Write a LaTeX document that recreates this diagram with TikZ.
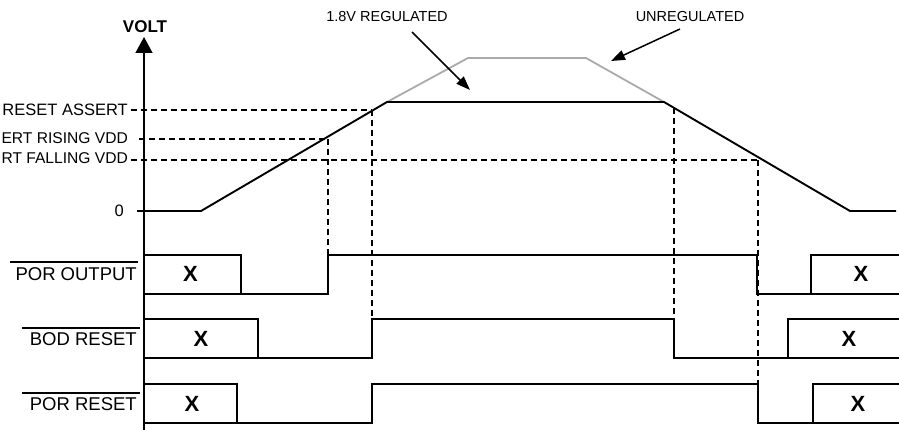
\documentclass[tikz,border=0pt]{standalone}
\usepackage{fontspec}
\setmainfont{Liberation Sans}
\usetikzlibrary{arrows.meta}
\definecolor{unreg}{RGB}{170,170,170}
\begin{document}
\begin{tikzpicture}[x=1pt,y=-1pt,
  sig/.style={line width=1.9pt, line join=miter},
  guide/.style={line width=1.3pt, dash pattern=on 6pt off 4pt},
  lvl/.style={font=\fontsize{16.5}{18}\selectfont, anchor=east, inner sep=0pt},
  lvls/.style={font=\fontsize{15.6}{18}\selectfont, anchor=east, inner sep=0pt},
  sigl/.style={font=\fontsize{18.5}{20}\selectfont, anchor=east, inner sep=0pt},
  xl/.style={font=\bfseries\fontsize{22}{24}\selectfont, inner sep=0pt},
  toplbl/.style={font=\fontsize{14.5}{16}\selectfont, inner sep=0pt},
  ovl/.style={line width=1.3pt},
  callout/.style={line width=1.5pt, -{Triangle[length=14pt,width=10pt]}}
]
\useasboundingbox (0,0) rectangle (899,430);

% axis
\node[font=\bfseries\fontsize{17}{19}\selectfont, inner sep=0pt] (volt) at (145,27) {VOLT};
\coordinate (axb) at (144,430);
\coordinate (axt) at (144,37);
\draw[line width=1.5pt, -{Triangle[length=16pt,width=17pt]}] (axb) -- (axt);

% level labels
\node[lvl] (lra) at (128,110) {RESET ASSERT};
\node[lvls] (lrv) at (128,138) {ERT RISING VDD};
\node[lvls] (lfv) at (128,158) {RT FALLING VDD};
\node[lvl] (lz) at (124,211) {0};

% unregulated (grey)
\draw[line width=1.8pt, unreg] (387,102) -- (468,58) -- (586,58) -- (664,102);

% regulated (black)
\coordinate (v0) at (137,211);
\coordinate (v1) at (201,211);
\coordinate (v2) at (387,102);
\coordinate (v3) at (664,102);
\coordinate (v4) at (850,211);
\coordinate (v5) at (896,211);
\draw[sig] (v0) -- (v1) -- (v2) -- (v3) -- (v4) -- (v5);

% horizontal guides
\draw[guide] (131,110) -- (372,110);
\draw[guide] (139,139) -- (328,139);
\draw[guide] (131,160) -- (760,160);

% vertical guides
\draw[guide] (328,139) -- (328,255);
\draw[guide] (372,110) -- (372,319);
\draw[guide] (674,108) -- (674,319);
\draw[guide] (758,160) -- (758,384);

% callouts
\node[toplbl] (treg) at (387,17) {1.8V REGULATED};
\coordinate (treg0) at (412,32);
\coordinate (treg1) at (470,90);
\draw[callout] (treg0) -- (treg1);
\node[toplbl] (tunr) at (690,17) {UNREGULATED};
\coordinate (tunr0) at (680,29);
\coordinate (tunr1) at (611,61);
\draw[callout] (tunr0) -- (tunr1);

% POR OUTPUT
\node[sigl] (spo) at (137,274) {POR OUTPUT};
\draw[ovl] (10,262) -- (138,262);
\draw[sig] (144,255) -- (241,255) -- (241,294);
\draw[sig] (144,294) -- (328,294) -- (328,255) -- (757,255) -- (757,294) -- (899,294);
\draw[sig] (811,294) -- (811,255) -- (899,255);
\node[xl] (xpo1) at (190.5,274) {X};
\node[xl] (xpo2) at (861,274) {X};

% BOD RESET
\node[sigl] (sbr) at (137,339) {BOD RESET};
\draw[ovl] (22,328) -- (140,328);
\draw[sig] (144,319) -- (258,319) -- (258,358);
\draw[sig] (144,358) -- (372,358) -- (372,319) -- (674,319) -- (674,358) -- (899,358);
\draw[sig] (788,358) -- (788,319) -- (899,319);
\node[xl] (xbr1) at (201,339) {X};
\node[xl] (xbr2) at (849,339) {X};

% POR RESET
\node[sigl] (spr) at (137,404) {POR RESET};
\draw[ovl] (22,393) -- (140,393);
\draw[sig] (144,384) -- (237,384) -- (237,423);
\draw[sig] (144,423) -- (372,423) -- (372,384) -- (758,384) -- (758,423) -- (899,423);
\draw[sig] (813,423) -- (813,384) -- (899,384);
\node[xl] (xpr1) at (192,404) {X};
\node[xl] (xpr2) at (858,404) {X};
\end{tikzpicture}
\end{document}
